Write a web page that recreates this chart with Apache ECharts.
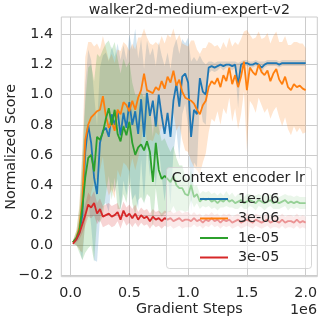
<!DOCTYPE html>
<html>
<head>
<meta charset="utf-8">
<script src="https://cdn.jsdelivr.net/npm/echarts@6/dist/echarts.min.js"></script>
<style>html,body{margin:0;padding:0;background:#fff}#c{width:319px;height:319px}</style>
</head>
<body>
<div id="c"></div>
<script>
// Gradient steps (in units of 1e6)
const steps = [0.02,0.05,0.075,0.1,0.125,0.15,0.175,0.2,0.225,0.25,
0.275,0.3,0.325,0.35,0.375,0.4,0.425,0.45,0.475,0.5,
0.525,0.55,0.575,0.6,0.625,0.65,0.675,0.7,0.725,0.75,
0.775,0.8,0.825,0.85,0.875,0.9,0.925,0.95,0.975,1.0,
1.025,1.05,1.075,1.1,1.125,1.15,1.175,1.2,1.225,1.25,
1.275,1.3,1.325,1.35,1.375,1.4,1.425,1.45,1.475,1.5,
1.525,1.55,1.575,1.6,1.625,1.65,1.675,1.7,1.725,1.75,
1.775,1.8,1.825,1.85,1.875,1.9,1.925,1.95,1.975,2.0];

const seriesNames = ['1e-06','3e-06','1e-05','3e-05'];
const seriesColors = ['#1f77b4','#ff7f0e','#2ca02c','#d62728'];

// mean normalized score per learning rate
const mean1e6 = [0.02,0.04,0.08,0.2,0.62,0.8,0.68,0.45,0.34,0.68,
0.76,0.78,0.72,0.87,0.8,0.89,0.73,0.88,0.78,0.95,
0.8,0.89,0.74,0.97,0.72,1.01,0.86,0.96,0.79,1.0,
0.86,0.74,0.88,0.72,0.96,1.07,0.92,1.12,1.14,1.08,
0.72,0.9,0.87,1.11,1.02,1.0,1.18,1.19,1.18,1.19,
1.2,1.19,1.2,1.2,1.19,1.2,1.06,1.2,1.21,1.21,
1.2,1.2,1.21,1.2,1.18,1.2,1.21,1.21,1.21,1.21,
1.2,1.21,1.21,1.21,1.21,1.21,1.21,1.21,1.21,1.21];
const sd1e6 = [0.01,0.04,0.1,0.3,0.45,0.5,0.55,0.55,0.45,0.5,
0.5,0.5,0.5,0.45,0.45,0.45,0.5,0.45,0.45,0.45,
0.5,0.55,0.5,0.4,0.45,0.35,0.4,0.35,0.4,0.35,
0.4,0.45,0.4,0.45,0.35,0.3,0.35,0.25,0.2,0.3,
0.5,0.35,0.35,0.15,0.2,0.2,0.04,0.03,0.03,0.03,
0.02,0.03,0.02,0.02,0.03,0.02,0.15,0.02,0.02,0.02,
0.02,0.02,0.02,0.02,0.04,0.02,0.02,0.02,0.02,0.02,
0.02,0.02,0.02,0.02,0.02,0.02,0.02,0.02,0.02,0.02];

const mean3e6 = [0.02,0.05,0.12,0.3,0.7,0.8,0.85,0.87,0.89,0.9,
0.99,0.86,0.78,0.82,0.76,0.9,0.87,0.95,0.93,0.89,
0.96,0.9,0.98,1.03,1.14,1.03,1.02,1.01,1.05,1.03,
1.09,1.04,1.12,1.08,1.16,1.06,1.1,1.02,0.98,0.97,
0.96,0.94,0.9,0.87,0.93,0.96,1.05,1.09,1.07,1.11,
1.05,1.13,1.09,1.18,1.07,1.13,1.05,1.12,1.22,1.03,
1.18,1.15,1.13,1.2,1.15,1.13,1.16,1.09,1.14,1.17,
1.1,1.07,1.12,1.05,1.03,1.07,1.05,1.06,1.04,1.03];
const sd3e6 = [0.01,0.05,0.15,0.35,0.55,0.55,0.5,0.45,0.45,0.4,
0.4,0.45,0.45,0.45,0.45,0.4,0.42,0.4,0.4,0.4,
0.38,0.4,0.4,0.35,0.3,0.35,0.32,0.32,0.3,0.3,
0.3,0.3,0.28,0.3,0.28,0.3,0.3,0.32,0.35,0.35,
0.4,0.42,0.4,0.4,0.38,0.35,0.3,0.25,0.25,0.22,
0.25,0.22,0.22,0.2,0.25,0.22,0.28,0.25,0.2,0.4,
0.22,0.22,0.25,0.22,0.22,0.25,0.25,0.25,0.25,0.25,
0.25,0.28,0.27,0.28,0.3,0.28,0.3,0.28,0.3,0.28];

const mean1e5 = [0.02,0.05,0.1,0.25,0.45,0.58,0.6,0.49,0.72,0.7,
0.75,0.84,0.91,0.8,0.9,0.74,0.69,0.79,0.73,0.82,
0.68,0.6,0.65,0.67,0.63,0.69,0.62,0.42,0.68,0.5,
0.44,0.46,0.44,0.42,0.46,0.4,0.38,0.38,0.34,0.33,
0.4,0.32,0.34,0.29,0.31,0.3,0.31,0.29,0.3,0.28,
0.3,0.29,0.31,0.29,0.3,0.28,0.29,0.3,0.28,0.29,
0.3,0.29,0.28,0.3,0.29,0.28,0.29,0.3,0.28,0.29,
0.28,0.29,0.3,0.28,0.29,0.28,0.29,0.28,0.28,0.28];
const sd1e5 = [0.01,0.05,0.15,0.35,0.5,0.6,0.6,0.6,0.55,0.55,
0.55,0.5,0.45,0.5,0.45,0.5,0.45,0.45,0.45,0.4,
0.4,0.4,0.35,0.35,0.35,0.35,0.3,0.3,0.3,0.28,
0.25,0.25,0.22,0.2,0.2,0.18,0.15,0.15,0.12,0.1,
0.1,0.07,0.06,0.05,0.05,0.05,0.05,0.05,0.05,0.05,
0.05,0.04,0.05,0.04,0.05,0.04,0.05,0.04,0.04,0.05,
0.04,0.04,0.05,0.04,0.04,0.05,0.04,0.04,0.04,0.05,
0.04,0.04,0.04,0.05,0.04,0.04,0.04,0.04,0.04,0.04];

const mean3e5 = [0.01,0.04,0.08,0.14,0.2,0.27,0.25,0.28,0.21,0.24,
0.19,0.2,0.21,0.19,0.2,0.22,0.17,0.23,0.19,0.21,
0.18,0.21,0.17,0.2,0.18,0.19,0.16,0.19,0.17,0.18,
0.16,0.18,0.17,0.18,0.16,0.17,0.18,0.16,0.17,0.17,
0.16,0.18,0.16,0.17,0.15,0.17,0.16,0.18,0.16,0.17,
0.15,0.17,0.16,0.17,0.15,0.16,0.17,0.15,0.16,0.17,
0.16,0.15,0.17,0.16,0.15,0.16,0.17,0.15,0.16,0.16,
0.15,0.17,0.15,0.16,0.16,0.15,0.17,0.15,0.16,0.15];
const sd3e5 = [0.01,0.02,0.04,0.06,0.07,0.08,0.07,0.08,0.07,0.07,
0.07,0.07,0.07,0.07,0.07,0.06,0.06,0.06,0.06,0.06,
0.06,0.06,0.05,0.05,0.05,0.05,0.05,0.05,0.05,0.05,
0.05,0.05,0.05,0.05,0.05,0.05,0.05,0.05,0.05,0.05,
0.04,0.04,0.04,0.04,0.04,0.04,0.04,0.04,0.04,0.04,
0.04,0.04,0.04,0.04,0.04,0.04,0.04,0.04,0.04,0.04,
0.04,0.04,0.04,0.04,0.04,0.04,0.04,0.04,0.04,0.04,
0.04,0.04,0.04,0.04,0.04,0.04,0.04,0.04,0.04,0.04];

const xTicks = [0, 0.5, 1.0, 1.5, 2.0];
const yTicks = [-0.2, 0.0, 0.2, 0.4, 0.6, 0.8, 1.0, 1.2, 1.4];

const means = [mean1e6, mean3e6, mean1e5, mean3e5];
const sds = [sd1e6, sd3e6, sd1e5, sd3e5];

const FONT = 'DejaVu Sans';
const TXT = '#262626';
const FS = 14.3;

function bandSeries(idx) {
  const m = means[idx], s = sds[idx];
  const data = steps.map((x, i) => [x, m[i] - s[i], m[i] + s[i]]);
  return {
    type: 'custom',
    name: seriesNames[idx] + ' band',
    z: 1,
    silent: true,
    clip: true,
    data: data,
    encode: { x: 0, y: [1, 2] },
    renderItem: function (params, api) {
      if (params.dataIndex !== 0) return null;
      const up = data.map(d => api.coord([d[0], d[2]]));
      const lo = data.map(d => api.coord([d[0], d[1]])).reverse();
      return {
        type: 'polygon',
        shape: { points: up.concat(lo) },
        style: { fill: seriesColors[idx], opacity: 0.2 }
      };
    }
  };
}

function lineSeries(idx) {
  return {
    type: 'line',
    name: seriesNames[idx],
    z: 2,
    symbol: 'none',
    silent: true,
    color: seriesColors[idx],
    lineStyle: { width: 1.8, color: seriesColors[idx] },
    data: steps.map((x, i) => [x, means[idx][i]])
  };
}

const series = [];
for (let i = 0; i < 4; i++) series.push(bandSeries(i));
for (let i = 0; i < 4; i++) series.push(lineSeries(i));

const chart = echarts.init(document.getElementById('c'), null, { renderer: 'canvas' });
chart.setOption({
  animation: false,
  backgroundColor: '#ffffff',
  textStyle: { fontFamily: FONT },
  title: [
    {
      text: 'walker2d-medium-expert-v2',
      left: 189.3, top: 2.5, textAlign: 'center', padding: 0, z: 10,
      textStyle: { fontFamily: FONT, fontSize: 14.2, fontWeight: 'normal', color: TXT, lineHeight: 16 }
    },
    {
      text: 'Context encoder lr',
      left: 171.7, top: 170.3, padding: 0, z: 10,
      textStyle: { fontFamily: FONT, fontSize: FS, fontWeight: 'normal', color: TXT, lineHeight: 16 }
    }
  ],
  grid: { left: 61.3, right: 1.7, top: 17, bottom: 42.3, show: true, borderColor: '#cccccc', borderWidth: 1,
    backgroundColor: 'transparent', containLabel: false, outerBoundsMode: 'none' },
  xAxis: {
    type: 'value', min: -0.079, max: 2.099,
    name: 'Gradient Steps', nameLocation: 'middle', nameGap: 24.6, nameMoveOverlap: false,
    nameTextStyle: { fontFamily: FONT, fontSize: FS, color: TXT, lineHeight: 16 },
    axisLine: { show: false },
    axisTick: { show: false, customValues: xTicks },
    axisLabel: { customValues: xTicks, margin: 8.6, fontFamily: FONT, fontSize: FS, color: TXT, lineHeight: 16,
      formatter: v => v.toFixed(1) },
    splitLine: { show: true, lineStyle: { color: '#cccccc', width: 1 } }
  },
  yAxis: {
    type: 'value', min: -0.209, max: 1.516,
    name: 'Normalized Score', nameLocation: 'middle', nameGap: 42.3, nameRotate: 90, nameMoveOverlap: false,
    nameTextStyle: { fontFamily: FONT, fontSize: FS, color: TXT, lineHeight: 16 },
    axisLine: { show: false },
    axisTick: { show: false, customValues: yTicks },
    axisLabel: { customValues: yTicks, margin: 8.2, fontFamily: FONT, fontSize: FS, color: TXT,
      formatter: v => v.toFixed(1).replace('-', '\u2212') },
    splitLine: { show: true, lineStyle: { color: '#cccccc', width: 1 } }
  },
  legend: {
    data: seriesNames,
    orient: 'vertical',
    left: 200, top: 191,
    padding: 0,
    itemWidth: 28, itemHeight: 2,
    itemGap: 3.5,
    icon: 'rect',
    z: 5,
    selectedMode: false,
    textStyle: { fontFamily: FONT, fontSize: FS, color: TXT, lineHeight: 16, padding: [0, 0, 0, 5] }
  },
  graphic: [
    {
      type: 'rect', left: 166, top: 167, z: 3, silent: true,
      shape: { width: 145, height: 101, r: 3 },
      style: { fill: 'rgba(255,255,255,0.5)', stroke: 'rgba(204,204,204,0.8)', lineWidth: 1 }
    },
    {
      type: 'text', right: 2, top: 303, z: 10, silent: true,
      style: { text: '1e6', fontFamily: FONT, fontSize: FS, fill: TXT }
    }
  ],
  series: series
});
</script>
</body>
</html>
